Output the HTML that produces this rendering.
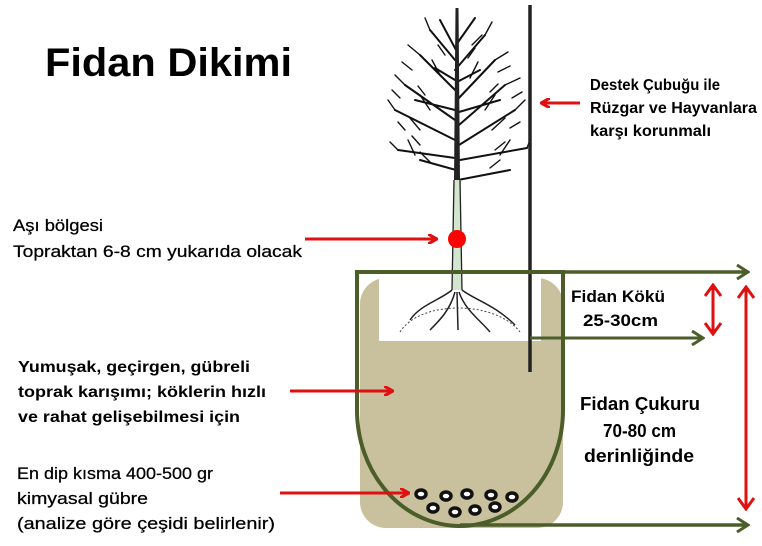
<!DOCTYPE html>
<html><head><meta charset="utf-8"><style>
html,body{margin:0;padding:0;background:#fff;}
svg{display:block;}
text{font-family:"Liberation Sans",sans-serif;fill:#000;}
.b{font-weight:bold;font-size:16px;}
.n{font-size:17px;stroke:#000;stroke-width:0.25px;}
</style></head><body>
<svg width="762" height="546" viewBox="0 0 762 546" xmlns="http://www.w3.org/2000/svg">
<defs>
<marker id="ra" markerWidth="10" markerHeight="10" refX="8" refY="5" orient="auto" markerUnits="userSpaceOnUse"><path d="M0,0 L9,5 L0,10" fill="none" stroke="#e01010" stroke-width="3"/></marker>
<marker id="ga" markerWidth="14" markerHeight="16" refX="12" refY="8" orient="auto" markerUnits="userSpaceOnUse"><path d="M1,1 L12,8 L1,15" fill="none" stroke="#4b5e2a" stroke-width="3"/></marker>
<marker id="rr" markerWidth="14" markerHeight="18" refX="12" refY="9" orient="auto-start-reverse" markerUnits="userSpaceOnUse"><path d="M1,1 L12,9 L1,17" fill="none" stroke="#e01010" stroke-width="3"/></marker>
</defs>
<text x="45" y="76" textLength="247" lengthAdjust="spacingAndGlyphs" style="font-size:40px;font-weight:bold;">Fidan Dikimi</text>

<rect x="360" y="278" width="203" height="250" rx="26" fill="#c9c19d"/>
<rect x="379" y="278" width="162" height="63" fill="#fff"/>

<g stroke="#111" stroke-width="2" fill="none" stroke-linecap="round">
<path d="M455,60 L430,30 M455,70 L485,35 M455,90 L420,55 M457,100 L495,60 M455,120 L405,85 M459,125 L505,85 M455,140 L395,110 M459,145 L515,110 M455,158 L398,150 M460,160 L527,148 M456,170 L420,160 M458,180 L510,170 M456,50 L440,20 M456,45 L475,18 M455,110 L415,100 M459,112 L500,100 M455,80 L435,68 M457,82 L480,70"/>
<path d="M430,30 L425,18 M485,35 L492,22 M420,55 L408,45 M495,60 L508,52 M405,85 L395,75 M505,85 L520,78 M395,110 L388,100 M515,110 L525,100 M398,150 L390,142 M527,148 L530,140 M440,75 L432,60 M470,78 L478,62 M430,110 L420,95 M485,110 L495,95 M420,130 L410,118 M492,130 L505,118 M415,155 L408,140 M500,155 L510,140 M440,42 L432,32 M472,45 L482,35 M412,70 L402,62 M498,72 L510,66 M400,98 L392,90 M512,98 L522,92 M405,130 L398,122 M510,128 L520,122 M420,145 L412,136 M495,150 L505,142 M430,162 L420,152 M490,168 L500,160 M425,95 L418,86 M490,92 L498,84 M445,55 L438,45 M468,58 L475,48" stroke-width="1.4"/>
</g>
<path d="M455.5,8 L458.5,8 L460,180 L454,180 Z" fill="#222"/>
<path d="M453,180 L461,180 L462,290 L452,290 Z" fill="#d3e4cf"/>
<path d="M452,290 L454,180 M462,290 L460,180" stroke="#222" stroke-width="1.3"/>
<g stroke="#222" stroke-width="1.5" fill="none">
<path d="M452,290 C440,300 420,305 410,320 M462,290 C475,300 495,305 515,325 M455,292 C450,310 440,320 430,330 M459,292 C465,310 480,320 490,332 M457,292 L458,330"/>
</g>
<path d="M400,332 C420,300 495,300 520,332" stroke="#444" stroke-width="1" stroke-dasharray="2 2" fill="none"/>

<line x1="530" y1="5" x2="530" y2="372" stroke="#222" stroke-width="3.5"/>

<path d="M357,272 L357,410 A103,116 0 0 0 563,410 L563,272 Z" fill="none" stroke="#4b5e2a" stroke-width="4"/>
<line x1="563" y1="272" x2="748" y2="272" stroke="#4b5e2a" stroke-width="3.5" marker-end="url(#ga)"/>
<line x1="530" y1="338" x2="703" y2="338" stroke="#4b5e2a" stroke-width="3" marker-end="url(#ga)"/>
<line x1="460" y1="525" x2="748" y2="525" stroke="#4b5e2a" stroke-width="3.5" marker-end="url(#ga)"/>

<g fill="#fff" stroke="#111" stroke-width="3.5">
<ellipse cx="421" cy="494" rx="5" ry="4"/><ellipse cx="446" cy="496" rx="5" ry="4"/><ellipse cx="467" cy="494" rx="5" ry="4"/><ellipse cx="491" cy="495" rx="5" ry="4"/><ellipse cx="512" cy="497" rx="5" ry="4"/>
<ellipse cx="433" cy="508" rx="5" ry="4"/><ellipse cx="455" cy="512" rx="5" ry="4"/><ellipse cx="475" cy="510" rx="5" ry="4"/><ellipse cx="495" cy="507" rx="5" ry="4"/>
</g>

<circle cx="457" cy="239" r="9" fill="#f00"/>
<g stroke="#e01010" stroke-width="3" fill="none">
<line x1="305" y1="239" x2="436" y2="239" marker-end="url(#ra)"/>
<line x1="580" y1="103" x2="542" y2="103" marker-end="url(#ra)"/>
<line x1="290" y1="391" x2="392" y2="391" marker-end="url(#ra)"/>
<line x1="280" y1="493" x2="408" y2="493" marker-end="url(#ra)"/>
<line x1="713" y1="285" x2="713" y2="334" marker-start="url(#rr)" marker-end="url(#rr)"/>
<line x1="746" y1="287" x2="746" y2="509" marker-start="url(#rr)" marker-end="url(#rr)"/>
</g>

<text class="b" x="590" y="90" textLength="130" lengthAdjust="spacingAndGlyphs">Destek Çubuğu ile</text>
<text class="b" x="590" y="113" textLength="167" lengthAdjust="spacingAndGlyphs">Rüzgar ve Hayvanlara</text>
<text class="b" x="590" y="136" textLength="121" lengthAdjust="spacingAndGlyphs">karşı korunmalı</text>
<text class="n" x="13" y="231" textLength="90" lengthAdjust="spacingAndGlyphs">Aşı bölgesi</text>
<text class="n" x="13" y="257" textLength="289" lengthAdjust="spacingAndGlyphs">Topraktan 6-8 cm yukarıda olacak</text>
<text class="b" x="18" y="372" textLength="232" lengthAdjust="spacingAndGlyphs">Yumuşak, geçirgen, gübreli</text>
<text class="b" x="18" y="397" textLength="248" lengthAdjust="spacingAndGlyphs">toprak karışımı; köklerin hızlı</text>
<text class="b" x="18" y="422" textLength="222" lengthAdjust="spacingAndGlyphs">ve rahat gelişebilmesi için</text>
<text class="n" x="17" y="479" textLength="196" lengthAdjust="spacingAndGlyphs">En dip kısma 400-500 gr</text>
<text class="n" x="17" y="504" textLength="131" lengthAdjust="spacingAndGlyphs">kimyasal gübre</text>
<text class="n" x="17" y="529" textLength="258" lengthAdjust="spacingAndGlyphs">(analize göre çeşidi belirlenir)</text>
<text class="b" x="571" y="302" style="font-size:17px" textLength="94" lengthAdjust="spacingAndGlyphs">Fidan Kökü</text>
<text class="b" x="583" y="326" style="font-size:17px" textLength="75" lengthAdjust="spacingAndGlyphs">25-30cm</text>
<text class="b" x="580" y="410" style="font-size:18px" textLength="120" lengthAdjust="spacingAndGlyphs">Fidan Çukuru</text>
<text class="b" x="603" y="437" style="font-size:18px" textLength="73" lengthAdjust="spacingAndGlyphs">70-80 cm</text>
<text class="b" x="584" y="462" style="font-size:18px" textLength="110" lengthAdjust="spacingAndGlyphs">derinliğinde</text>
</svg>
</body></html>
